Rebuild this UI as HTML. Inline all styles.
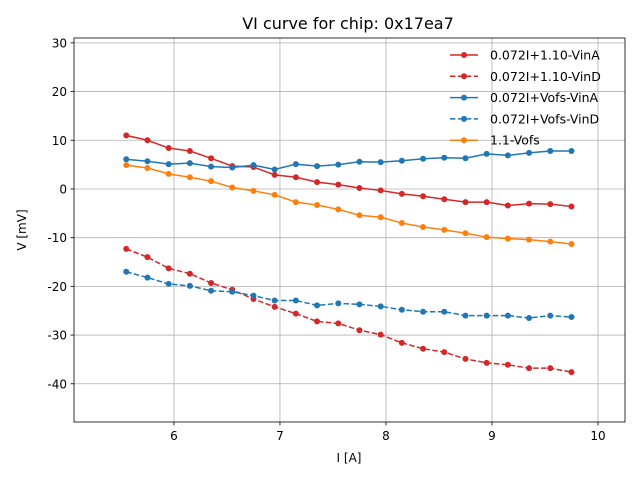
<!DOCTYPE html>
<html><head><meta charset="utf-8"><style>
body{margin:0;background:#fff;}
svg text{font-family:"DejaVu Sans","Liberation Sans",sans-serif;}
</style></head><body>
<svg id="chart" width="640" height="480" xmlns="http://www.w3.org/2000/svg"></svg>
<script>
const xValues=[5.55,5.75,5.95,6.15,6.35,6.55,6.75,6.95,7.15,7.35,7.55,7.75,7.95,8.15,8.35,8.55,8.75,8.95,9.15,9.35,9.55,9.75];
const vinA110=[11.0,10.0,8.4,7.8,6.3,4.7,4.5,2.9,2.4,1.4,0.9,0.2,-0.3,-1.0,-1.5,-2.1,-2.7,-2.7,-3.4,-3.0,-3.1,-3.6];
const vinD110=[-12.3,-14.0,-16.3,-17.4,-19.3,-20.7,-22.6,-24.2,-25.6,-27.2,-27.6,-29.0,-29.9,-31.6,-32.8,-33.5,-34.9,-35.7,-36.1,-36.8,-36.8,-37.6];
const vinAVofs=[6.1,5.7,5.1,5.3,4.6,4.4,4.9,4.0,5.1,4.7,5.0,5.6,5.5,5.8,6.2,6.4,6.3,7.2,6.9,7.4,7.8,7.8];
const vinDVofs=[-17.0,-18.2,-19.5,-19.9,-20.9,-21.1,-21.9,-22.9,-22.9,-23.9,-23.5,-23.7,-24.1,-24.8,-25.2,-25.2,-26.0,-26.0,-26.0,-26.5,-26.0,-26.3];
const vofs11=[4.9,4.3,3.1,2.4,1.6,0.3,-0.4,-1.2,-2.7,-3.3,-4.2,-5.4,-5.8,-7.0,-7.8,-8.4,-9.1,-9.9,-10.2,-10.4,-10.8,-11.3];
const xTicks=[6,7,8,9,10];
const yTicks=[30,20,10,0,-10,-20,-30,-40];
const seriesNames=["0.072I+1.10-VinA","0.072I+1.10-VinD","0.072I+Vofs-VinA","0.072I+Vofs-VinD","1.1-Vofs"];

const L=74,R=625,T=38,B=422;
const xMin=5.057,xMax=10.255,yMin=-47.85,yMax=31.0;
const sx=v=>L+(v-xMin)/(xMax-xMin)*(R-L);
const sy=v=>B-(v-yMin)/(yMax-yMin)*(B-T);
const svg=document.getElementById('chart');
const NS="http://www.w3.org/2000/svg";
function mk(tag,attrs,parent){const e=document.createElementNS(NS,tag);for(const k in attrs)e.setAttribute(k,attrs[k]);(parent||svg).appendChild(e);return e;}

let t=mk('text',{x:348,y:29,'text-anchor':'middle','font-size':16,fill:'#000'});t.textContent="VI curve for chip: 0x17ea7";



xTicks.forEach(v=>{const x=sx(v);
 const g=mk('line',{x1:x,x2:x,y1:T,y2:B,stroke:'#b0b0b0','stroke-width':0.8});
 
 
 mk('line',{x1:x,x2:x,y1:B,y2:B+3.5,stroke:'#000','stroke-width':0.8});
 const l=mk('text',{x:x,y:B+18,'text-anchor':'middle','font-size':12});l.textContent=v;
 
 
});
yTicks.forEach(v=>{const y=sy(v);
 const g=mk('line',{x1:L,x2:R,y1:y,y2:y,stroke:'#b0b0b0','stroke-width':0.8});
 
 
 mk('line',{x1:L-3.5,x2:L,y1:y,y2:y,stroke:'#000','stroke-width':0.8});
 const l=mk('text',{x:L-7,y:y+4.5,'text-anchor':'end','font-size':12});l.textContent=v;
 
 
});

const seriesData=[vinA110,vinD110,vinAVofs,vinDVofs,vofs11];
const colors=['#d62728','#d62728','#1f77b4','#1f77b4','#ff7f0e'];
const dashed=[false,true,false,true,false];
const sNames=['series-110-vina','series-110-vind','series-vofs-vina','series-vofs-vind','series-1.1-vofs'];
seriesData.forEach((d,i)=>{
 const g=mk('g',{});
 
 
 const pts=d.map((v,j)=>sx(xValues[j])+','+sy(v)).join(' ');
 const pl=mk('polyline',{points:pts,fill:'none',stroke:colors[i],'stroke-width':1.5,'stroke-dasharray':dashed[i]?'5.5,2.4':'none'},g);
 d.forEach((v,j)=>{const c=mk('circle',{cx:sx(xValues[j]),cy:sy(v),r:3,fill:colors[i]},g);
  
  });
});

mk('rect',{x:L,y:T,width:R-L,height:B-T,fill:'none',stroke:'#000','stroke-width':0.8});

// legend
const lg=mk('g',{});


seriesNames.forEach((n,i)=>{const y=55+i*21.3;
 const e=mk('g',{},lg);
 
 
 mk('line',{x1:450,x2:478,y1:y,y2:y,stroke:colors[i],'stroke-width':1.5,'stroke-dasharray':dashed[i]?'5.5,2.4':'none'},e);
 mk('circle',{cx:464,cy:y,r:3,fill:colors[i]},e);
 const tx=mk('text',{x:490,y:y+4.5,'font-size':12.5},e);tx.textContent=n;
});

let xl=mk('text',{x:349,y:462,'text-anchor':'middle','font-size':12});xl.textContent="I [A]";


let yl=mk('text',{x:26,y:230,'text-anchor':'middle','font-size':12,transform:'rotate(-90 26 230)'});yl.textContent="V [mV]";


</script>
</body></html>
